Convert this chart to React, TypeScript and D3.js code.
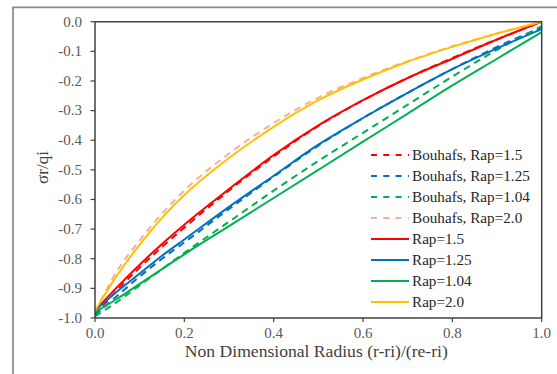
import React from "react";
import * as d3 from "d3";

const xs = [0, 0.05, 0.1, 0.15, 0.2, 0.3, 0.4, 0.5, 0.6, 0.7, 0.8, 0.9, 1.0];

const bouhafs15 = [-0.99, -0.905, -0.83, -0.76, -0.695, -0.57, -0.455, -0.352, -0.265, -0.19, -0.122, -0.06, 0.0];
const bouhafs125 = [-0.99, -0.925, -0.86, -0.8, -0.745, -0.632, -0.523, -0.418, -0.325, -0.24, -0.16, -0.085, -0.02];
const bouhafs104 = [-0.995, -0.945, -0.89, -0.835, -0.78, -0.675, -0.57, -0.47, -0.375, -0.28, -0.185, -0.095, -0.015];
const bouhafs20 = [-0.98, -0.84, -0.738, -0.648, -0.57, -0.445, -0.342, -0.256, -0.19, -0.133, -0.083, -0.04, 0.0];
const rap15 = [-0.975, -0.895, -0.82, -0.75, -0.685, -0.565, -0.45, -0.35, -0.265, -0.19, -0.125, -0.06, 0.0];
const rap125 = [-0.975, -0.91, -0.85, -0.79, -0.735, -0.625, -0.52, -0.415, -0.325, -0.24, -0.16, -0.09, -0.025];
const rap104 = [-0.98, -0.935, -0.885, -0.835, -0.785, -0.69, -0.595, -0.5, -0.405, -0.31, -0.215, -0.125, -0.035];
const rap20 = [-0.975, -0.855, -0.752, -0.662, -0.585, -0.46, -0.355, -0.265, -0.195, -0.135, -0.085, -0.04, 0.0];

const xTicks = [0, 0.2, 0.4, 0.6, 0.8, 1.0];
const yTicks = [0, -0.1, -0.2, -0.3, -0.4, -0.5, -0.6, -0.7, -0.8, -0.9, -1.0];

const series = [
  { name: "Bouhafs, Rap=1.5", values: bouhafs15, color: "#FF0000", dashed: true },
  { name: "Bouhafs, Rap=1.25", values: bouhafs125, color: "#0070C0", dashed: true },
  { name: "Bouhafs, Rap=1.04", values: bouhafs104, color: "#00B050", dashed: true },
  { name: "Bouhafs, Rap=2.0", values: bouhafs20, color: "#F4B09C", dashed: true },
  { name: "Rap=1.5", values: rap15, color: "#FF0000", dashed: false },
  { name: "Rap=1.25", values: rap125, color: "#0070C0", dashed: false },
  { name: "Rap=1.04", values: rap104, color: "#00B050", dashed: false },
  { name: "Rap=2.0", values: rap20, color: "#FFC000", dashed: false },
];

export default function App() {
  const W = 557, H = 374;
  const left = 95, right = 541.7, top = 21.7, bottom = 318;
  const x = d3.scaleLinear().domain([0, 1]).range([left, right]);
  const y = d3.scaleLinear().domain([-1, 0]).range([bottom, top]);
  const line = d3
    .line<number>()
    .x((_, i) => x(xs[i]))
    .y((v) => y(v))
    .curve(d3.curveMonotoneX);
  const font = "Liberation Serif, Times New Roman, Times, DejaVu Serif, serif";
  const legX = 371, legY0 = 155, legDy = 21;
  return (
    <svg width={W} height={H} style={{ position: "absolute", left: 0, top: 0, fontFamily: font }}>
      <rect x={0} y={0} width={W} height={H} fill="#fff" />
      <path d={`M13,${H + 5} L13,7.3 L${W + 5},7.3`} fill="none" stroke="#8a8a8a" strokeWidth={1.7} />
      <defs>
        <clipPath id="plotclip">
          <rect x={left} y={top - 3} width={right - left + 2} height={bottom - top + 6} />
        </clipPath>
      </defs>
      <g clipPath="url(#plotclip)">
        {series.map((s) => (
          <path
            key={s.name}
            d={line(s.values) || ""}
            fill="none"
            stroke={s.color}
            strokeWidth={2}
            strokeDasharray={s.dashed ? "7,5" : undefined}
          />
        ))}
      </g>
      <path d={`M${left},${top} L${right},${top} L${right},${bottom}`} fill="none" stroke="#404040" strokeWidth={1.5} />
      <line x1={left} y1={top} x2={left} y2={bottom} stroke="#404040" strokeWidth={1.5} />
      <line x1={left} y1={bottom} x2={right} y2={bottom} stroke="#404040" strokeWidth={1.5} />
      {yTicks.map((t) => (
        <g key={"y" + t}>
          <line x1={left - 4.5} x2={left} y1={y(t)} y2={y(t)} stroke="#404040" strokeWidth={1.2} />
          <text x={82} y={y(t) + 4.8} textAnchor="end" fontSize={15} fill="#595959" style={{ fontFamily: font }}>
            {t.toFixed(1)}
          </text>
        </g>
      ))}
      {xTicks.map((t) => (
        <g key={"x" + t}>
          <line x1={x(t)} x2={x(t)} y1={bottom} y2={bottom + 4} stroke="#404040" strokeWidth={1.2} />
          <text x={x(t)} y={338} textAnchor="middle" fontSize={15} fill="#595959" style={{ fontFamily: font }}>
            {t.toFixed(1)}
          </text>
        </g>
      ))}
      <text
        x={(left + right) / 2 - 2}
        y={357}
        textAnchor="middle"
        fontSize={16.5}
        fill="#404040"
        textLength={263}
        lengthAdjust="spacingAndGlyphs"
        style={{ fontFamily: font }}
      >
        Non Dimensional Radius (r-ri)/(re-ri)
      </text>
      <text transform={`translate(48,167.5) rotate(-90)`} textAnchor="middle" fontSize={17} fill="#404040" style={{ fontFamily: font }}>
        σr/qi
      </text>
      {series.map((s, i) => (
        <g key={"leg" + s.name}>
          <line
            x1={legX}
            x2={legX + 38}
            y1={legY0 + i * legDy}
            y2={legY0 + i * legDy}
            stroke={s.color}
            strokeWidth={2}
            strokeDasharray={s.dashed ? "6,6.3" : undefined}
          />
          <text x={legX + 41} y={legY0 + i * legDy + 5} fontSize={15.2} fill="#262626" style={{ fontFamily: font }}>
            {s.name}
          </text>
        </g>
      ))}
    </svg>
  );
}
